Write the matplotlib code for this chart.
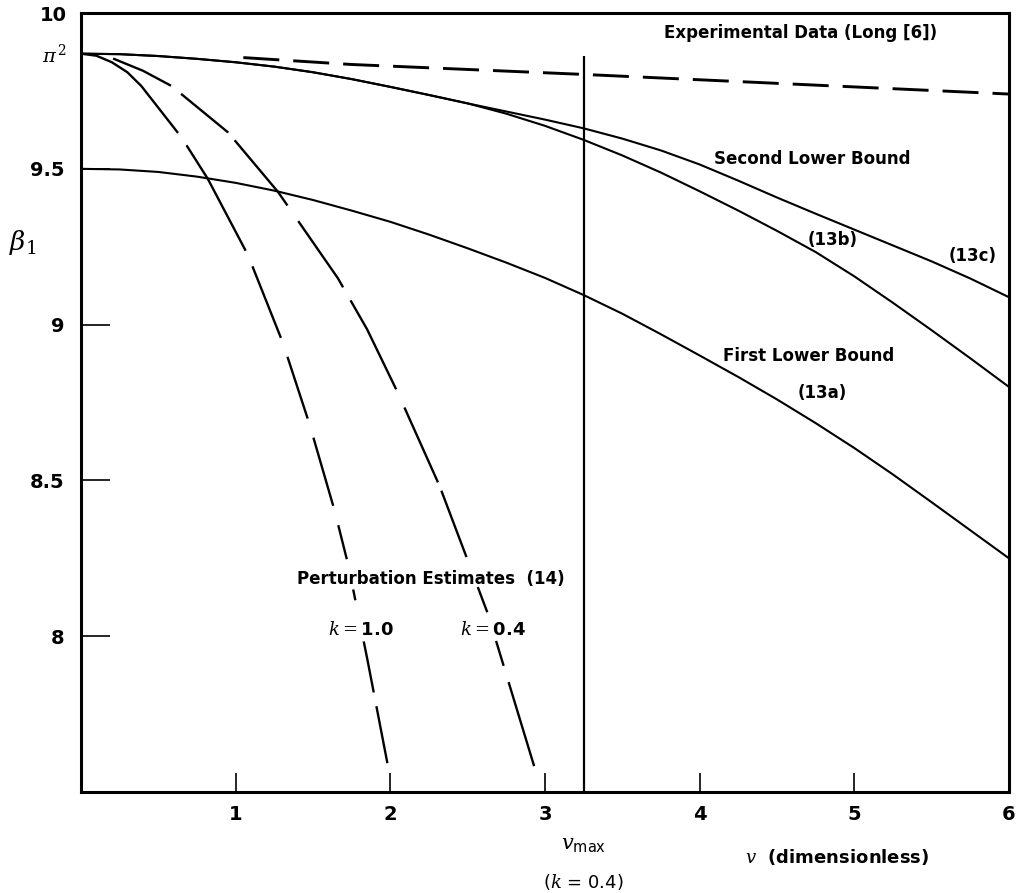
import numpy as np
import matplotlib
matplotlib.use("Agg")
import matplotlib.pyplot as plt

PI2 = np.pi ** 2

# ---- data ----
v_grid = [0.0, 0.25, 0.5, 0.75, 1.0, 1.25, 1.5, 1.75, 2.0, 2.25, 2.5, 2.75, 3.0,
          3.25, 3.5, 3.75, 4.0, 4.25, 4.5, 4.75, 5.0, 5.25, 5.5, 5.75, 6.0]

# First lower bound (13a)
b_13a = [9.500, 9.498, 9.490, 9.475, 9.455, 9.430, 9.400, 9.366, 9.330, 9.289, 9.245, 9.199, 9.150,
         9.095, 9.035, 8.969, 8.901, 8.832, 8.760, 8.684, 8.604, 8.519, 8.430, 8.340, 8.250]

# Second lower bound (13c)
b_13c = [PI2, 9.868, 9.862, 9.853, 9.842, 9.828, 9.810, 9.788, 9.763, 9.737, 9.710, 9.684, 9.658,
         9.630, 9.597, 9.559, 9.514, 9.462, 9.408, 9.356, 9.305, 9.254, 9.203, 9.148, 9.088]

# (13b)
b_13b = [PI2, 9.868, 9.862, 9.853, 9.842, 9.828, 9.810, 9.788, 9.763, 9.737, 9.710, 9.677, 9.638,
         9.593, 9.543, 9.488, 9.428, 9.366, 9.301, 9.233, 9.155, 9.070, 8.982, 8.892, 8.800]

# Experimental data (Long [6])
v_exp = [1.05, 1.745, 3.25, 6.0]
b_exp = [9.857, 9.835, 9.803, 9.740]

# Perturbation estimates (14)
v_k10 = [0.0, 0.1, 0.2, 0.3, 0.39, 0.65, 0.82, 1.08, 1.306, 1.478, 1.64, 1.726, 1.85, 1.985]
b_k10 = [PI2, 9.863, 9.842, 9.810, 9.766, 9.601, 9.468, 9.223, 8.941, 8.680, 8.403, 8.233, 7.93, 7.583]

v_k04 = [0.208, 0.4, 0.585, 0.951, 1.274, 1.661, 1.85, 2.049, 2.318, 2.501, 2.63, 2.93]
b_k04 = [9.854, 9.815, 9.766, 9.617, 9.426, 9.149, 8.985, 8.781, 8.483, 8.243, 8.073, 7.583]

v_max = 3.25
vmax_top = 9.862

x_ticks = [1, 2, 3, 4, 5, 6]
y_ticks = [8, 8.5, 9, 9.5]
y_tick_labels = ["8", "8.5", "9", "9.5"]

# dash sequences (pixel lengths along the curves, as seen in the reference)
dash_k10_px = [130, 15, 121, 17, 77, 20, 65, 20, 71, 20, 35, 31, 11, 42, 52, 14, 58, 20]
dash_k04_px = [64, 13, 61, 10, 84, 19, 80, 15, 100, 20, 82, 9, 71, 32, 27, 30, 26, 17, 88, 20]
dash_exp_px = [36, 14]

# ---- figure ----
plt.rcParams['font.family'] = ['DejaVu Sans']
plt.rcParams['mathtext.fontset'] = 'dejavuserif'

fig = plt.figure(figsize=(10.26, 8.93), dpi=100)
ax = fig.add_axes([0.0789, 0.1131, 0.9045, 0.8723])

ax.set_xlim(0, 6)
ax.set_ylim(7.5, 10)


def px_dashes(seq, lw):
    f = 0.72 / lw
    return [s * f for s in seq]


solid_lw = 1.5
ax.plot(v_grid, b_13a, color='black', lw=solid_lw)
ax.plot(v_grid, b_13c, color='black', lw=solid_lw)
ax.plot(v_grid, b_13b, color='black', lw=solid_lw)

lw_exp = 2.1
ax.plot(v_exp, b_exp, color='black', lw=lw_exp,
        dashes=px_dashes(dash_exp_px, lw_exp), dash_capstyle='butt')

lw_k = 1.7
ax.plot(v_k10, b_k10, color='black', lw=lw_k,
        dashes=px_dashes(dash_k10_px, lw_k), dash_capstyle='butt')
ax.plot(v_k04, b_k04, color='black', lw=lw_k,
        dashes=px_dashes(dash_k04_px, lw_k), dash_capstyle='butt')

ax.vlines(v_max, 7.5, vmax_top, color='black', lw=1.6)

for s in ax.spines.values():
    s.set_linewidth(2.2)

ax.set_xticks(x_ticks)
ax.set_xticklabels([str(t) for t in x_ticks], fontsize=14, fontweight='bold')
ax.tick_params(axis='x', direction='in', length=14, width=1.2, pad=9)

ax.set_yticks(y_ticks)
ax.set_yticklabels(y_tick_labels, fontsize=14, fontweight='bold')
ax.tick_params(axis='y', direction='in', length=21, width=1.2, pad=12)

ax.set_yticks([PI2, 10], minor=True)
ax.set_yticklabels([r'$\pi^{\,2}$', '10'], minor=True, fontsize=14, fontweight='bold')
ax.tick_params(axis='y', which='minor', length=0, pad=10)

# axis labels
fig.text(0.022, 0.728, r'$\beta_1$', fontsize=19, ha='center', va='center')
xt = ax.get_xaxis_transform()
ax.text(v_max, -0.068, r'$v_{\mathsf{max}}$', transform=xt,
        fontsize=15, ha='center', va='center')
ax.text(v_max, -0.1155, r'($k$ = 0.4)', transform=xt,
        fontsize=13, ha='center', va='center')
ax.text(4.887, -0.083, r'$v$  (dimensionless)', transform=xt,
        fontsize=13, fontweight='bold', ha='center', va='center')

# annotations
txt = dict(fontsize=12, fontweight='bold', ha='center', va='center')
ax.text(4.655, 9.937, 'Experimental Data (Long [6])', **txt)
ax.text(4.73, 9.531, 'Second Lower Bound', **txt)
ax.text(4.86, 9.272, '(13b)', **txt)
ax.text(5.765, 9.221, '(13c)', **txt)
ax.text(4.706, 8.898, 'First Lower Bound', **txt)
ax.text(4.79, 8.78, '(13a)', **txt)
ax.text(2.265, 8.183, 'Perturbation Estimates  (14)', **txt)
ax.text(1.812, 8.02, r'$k = $1.0', fontsize=13, fontweight='bold', ha='center', va='center')
ax.text(2.664, 8.02, r'$k = $0.4', fontsize=13, fontweight='bold', ha='center', va='center')

fig.savefig('out.png', dpi=100)
